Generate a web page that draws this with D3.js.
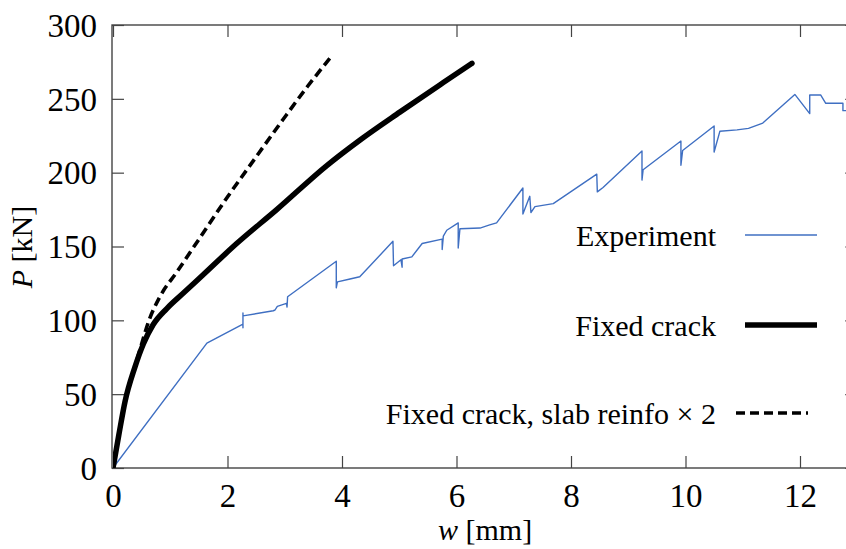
<!DOCTYPE html>
<html>
<head>
<meta charset="utf-8">
<script src="https://cdn.jsdelivr.net/npm/d3@7"></script>
<style>
  body { margin: 0; background: #fff; }
  text { font-family: "Liberation Serif", "Times New Roman", serif; fill: #000; }
</style>
</head>
<body>
<script>
// load-deflection data [w (mm), P (kN)]
var experiment = [
  [0, 0], [1.64, 84.6], [2.27, 97.5], [2.27, 105], [2.27, 95], [2.27, 103],
  [2.8, 106.5], [2.83, 107], [2.87, 109.5], [3.03, 111.5], [3.04, 109], [3.05, 116],
  [3.9, 140], [3.9, 122], [3.92, 126], [4.14, 128], [4.31, 129.5], [4.89, 153.5],
  [4.9, 137], [5.03, 141], [5.05, 136], [5.05, 141.5], [5.22, 143], [5.4, 152],
  [5.75, 155], [5.75, 148], [5.77, 157], [5.83, 161], [6.03, 166], [6.03, 149],
  [6.06, 162], [6.41, 162.5], [6.58, 164.6], [6.7, 166], [7.16, 189.6], [7.16, 172],
  [7.2, 176], [7.28, 184], [7.3, 173], [7.37, 177], [7.69, 179], [8.45, 199],
  [8.46, 187], [8.56, 190], [9.24, 214.7], [9.24, 195], [9.26, 202], [9.92, 221.4],
  [9.92, 205], [9.95, 215], [10.5, 231.6], [10.5, 214], [10.6, 228], [10.9, 229],
  [11.1, 230], [11.35, 233.6], [11.91, 253], [12.17, 240], [12.17, 252.6],
  [12.36, 252.6], [12.45, 247], [12.75, 247], [12.75, 242], [12.9, 242]
];
var fixedCrack = [
  [0, 0], [0.1, 22], [0.21, 45], [0.38, 68], [0.53, 84], [0.7, 97], [0.94, 108],
  [1.23, 118.5], [1.57, 130.7], [2.16, 152], [2.86, 175], [3.74, 205], [4.31, 222],
  [5.01, 241], [5.77, 261], [6.27, 274]
];
var fixedCrack2 = [
  [0, 0], [0.1, 22], [0.21, 45], [0.38, 68], [0.5, 84], [0.62, 99], [0.82, 116],
  [1.12, 133], [1.52, 156], [1.99, 183], [2.45, 208], [2.97, 236], [3.39, 258],
  [3.8, 278]
];
var xTicks = [0, 2, 4, 6, 8, 10, 12];
var yTicks = [0, 50, 100, 150, 200, 250, 300];
var legendLabels = ["Experiment", "Fixed crack", "Fixed crack, slab reinfo \u00d7 2"];

var width = 846, height = 549;
var plotL = 113, plotR = 857.25, plotT = 25, plotB = 468;
var blue = "#3f6fc2";

var svg = d3.select("body").append("svg")
    .attr("width", width)
    .attr("height", height);

var x = d3.scaleLinear().domain([0, 13]).range([plotL, plotR]);
var y = d3.scaleLinear().domain([0, 300]).range([plotB, plotT]);

svg.append("defs").append("clipPath").attr("id", "plot")
  .append("rect")
    .attr("x", plotL).attr("y", plotT)
    .attr("width", plotR - plotL).attr("height", plotB - plotT);

// frame with inward ticks on all sides
var axisColor = "#444";
var tick = 12;
function frame(g) {
  g.selectAll(".domain").remove();
  g.selectAll("line").attr("stroke", axisColor).attr("stroke-width", 1.2);
}
svg.append("g")
    .attr("transform", "translate(0," + plotB + ")")
    .call(d3.axisBottom(x).tickValues(xTicks).tickSize(-tick).tickPadding(16))
    .call(frame)
    .selectAll("text").style("font-size", "33px")
    .style("font-family", "Liberation Serif, serif").attr("fill", "#000");
svg.append("g")
    .attr("transform", "translate(0," + plotT + ")")
    .call(d3.axisTop(x).tickValues(xTicks).tickSize(-tick).tickFormat(""))
    .call(frame);
svg.append("g")
    .attr("transform", "translate(" + (plotL - 1) + ",0)")
    .call(d3.axisLeft(y).tickValues(yTicks).tickSize(-tick).tickPadding(15))
    .call(frame)
    .selectAll("text").style("font-size", "33px")
    .style("font-family", "Liberation Serif, serif").attr("fill", "#000")
    .attr("dy", "0.34em");
svg.append("g")
    .attr("transform", "translate(" + plotR + ",0)")
    .call(d3.axisRight(y).tickValues(yTicks).tickSize(-tick).tickFormat(""))
    .call(frame);

svg.append("rect")
    .attr("x", plotL - 1).attr("y", plotT)
    .attr("width", plotR - plotL + 1).attr("height", plotB - plotT)
    .attr("fill", "none")
    .attr("stroke", axisColor)
    .attr("stroke-width", 1.4);

// curves
var line = d3.line()
    .x(function(d) { return x(d[0]); })
    .y(function(d) { return y(d[1]); });
var smooth = d3.line()
    .x(function(d) { return x(d[0]); })
    .y(function(d) { return y(d[1]); })
    .curve(d3.curveMonotoneX);

var plot = svg.append("g").attr("clip-path", "url(#plot)");
plot.append("path").datum(experiment)
    .attr("d", line)
    .attr("fill", "none")
    .attr("stroke", blue)
    .attr("stroke-width", 1.4)
    .attr("stroke-linejoin", "round");
plot.append("path").datum(fixedCrack2)
    .attr("d", smooth)
    .attr("fill", "none")
    .attr("stroke", "#000")
    .attr("stroke-width", 3.6)
    .attr("stroke-dasharray", "9,5");
plot.append("path").datum(fixedCrack)
    .attr("d", smooth)
    .attr("fill", "none")
    .attr("stroke", "#000")
    .attr("stroke-width", 5.5)
    .attr("stroke-linecap", "round");

// legend
var legendY = [235, 325, 413];
var styles = [
  { stroke: blue, w: 1.4, dash: null },
  { stroke: "#000", w: 5.5, dash: null },
  { stroke: "#000", w: 3.6, dash: "9,5" }
];
legendLabels.forEach(function(label, i) {
  svg.append("text")
      .attr("x", 716)
      .attr("y", legendY[i] + 11)
      .attr("text-anchor", "end")
      .style("font-size", "30px")
      .text(label);
  svg.append("line")
      .attr("x1", i == 2 ? 736 : 745).attr("x2", i == 2 ? 808 : 817)
      .attr("y1", legendY[i]).attr("y2", legendY[i])
      .attr("stroke", styles[i].stroke)
      .attr("stroke-width", styles[i].w)
      .attr("stroke-dasharray", styles[i].dash);
});

// axis titles
var xt = svg.append("text")
    .attr("x", (plotL + plotR) / 2)
    .attr("y", 540)
    .attr("text-anchor", "middle")
    .style("font-size", "30px");
xt.append("tspan").style("font-style", "italic").text("w");
xt.append("tspan").text(" [mm]");

var yt = svg.append("text")
    .attr("transform", "translate(32,247) rotate(-90)")
    .attr("text-anchor", "middle")
    .style("font-size", "30px");
yt.append("tspan").style("font-style", "italic").text("P");
yt.append("tspan").text(" [kN]");
</script>
</body>
</html>
